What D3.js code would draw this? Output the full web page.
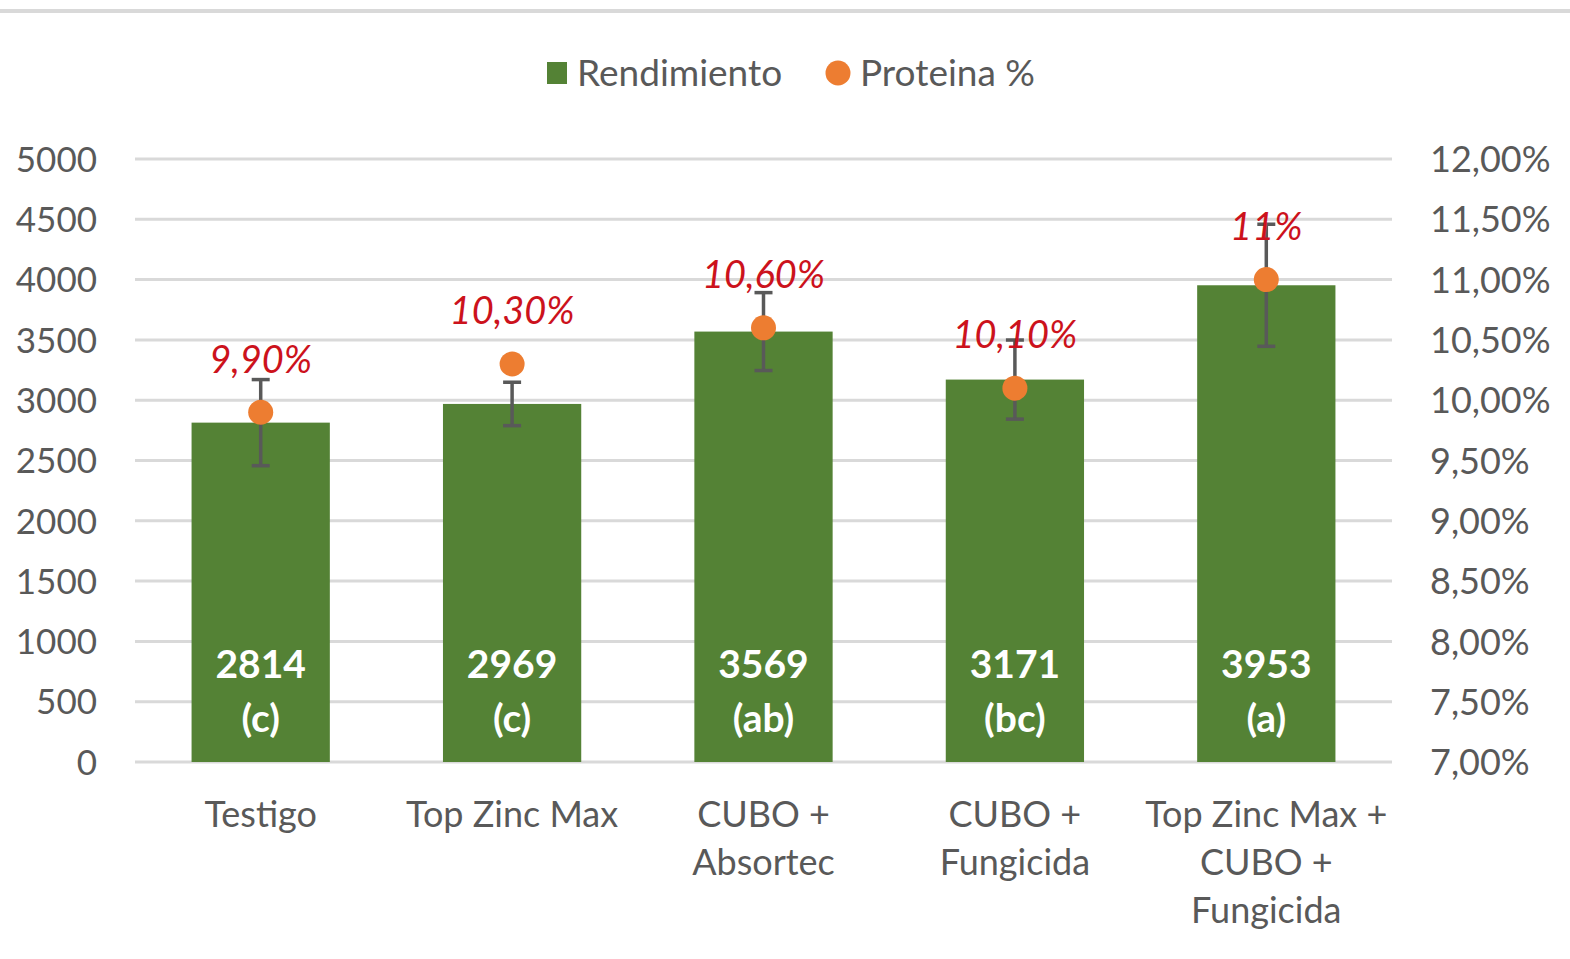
<!DOCTYPE html>
<html>
<head>
<meta charset="utf-8">
<script src="https://cdn.jsdelivr.net/npm/d3@7"></script>
<style>
  body { margin: 0; background: #fff; }
  text { font-family: Lato, "Open Sans", sans-serif; }
</style>
</head>
<body>
<div id="chart"></div>
<script>
var categories = [
  ["Testigo"],
  ["Top Zinc Max"],
  ["CUBO +", "Absortec"],
  ["CUBO +", "Fungicida"],
  ["Top Zinc Max +", "CUBO +", "Fungicida"]
];
var rendimiento = [2814, 2969, 3569, 3171, 3953];
var errores = [357, 180, 323, 328, 506];
var letras = ["(c)", "(c)", "(ab)", "(bc)", "(a)"];
var proteina = [9.9, 10.3, 10.6, 10.1, 11.0];
var proteinaLabels = ["9,90%", "10,30%", "10,60%", "10,10%", "11%"];
var leftTicks = [0, 500, 1000, 1500, 2000, 2500, 3000, 3500, 4000, 4500, 5000];
var rightTicks = [7, 7.5, 8, 8.5, 9, 9.5, 10, 10.5, 11, 11.5, 12];

var W = 1570, H = 959;
var margin = {top: 159, right: 178, bottom: 197, left: 135};

var svg = d3.select("#chart").append("svg")
    .attr("width", W)
    .attr("height", H);

// top border line
svg.append("line")
    .attr("x1", 0).attr("x2", W)
    .attr("y1", 11).attr("y2", 11)
    .attr("stroke", "#d9d9d9")
    .attr("stroke-width", 4);

var x = d3.scaleBand()
    .domain(d3.range(categories.length))
    .range([margin.left, W - margin.right])
    .paddingInner(0.45)
    .paddingOuter(0.225);

var y = d3.scaleLinear().domain([0, 5000]).range([H - margin.bottom, margin.top]);
var y2 = d3.scaleLinear().domain([7, 12]).range([H - margin.bottom, margin.top]);

// Gridlines
svg.append("g")
  .selectAll("line")
  .data(leftTicks)
  .enter().append("line")
    .attr("x1", margin.left)
    .attr("x2", W - margin.right)
    .attr("y1", function(d) { return y(d); })
    .attr("y2", function(d) { return y(d); })
    .attr("stroke", "#d9d9d9")
    .attr("stroke-width", 3);

// Left axis
var yAxis = svg.append("g")
    .attr("transform", "translate(" + (margin.left - 38) + ",0)")
    .call(d3.axisLeft(y).tickValues(leftTicks).tickFormat(d3.format("d")).tickSize(0).tickPadding(0));
yAxis.select(".domain").remove();
yAxis.selectAll("text")
    .attr("fill", "#595959")
    .style("font-size", "35px")
    .attr("dy", "0.35em");

// Right axis
var fmt = function(d) { return d.toFixed(2).replace(".", ",") + "%"; };
var y2Axis = svg.append("g")
    .attr("transform", "translate(" + 1430 + ",0)")
    .call(d3.axisRight(y2).tickValues(rightTicks).tickFormat(fmt).tickSize(0).tickPadding(0));
y2Axis.select(".domain").remove();
y2Axis.selectAll("text")
    .attr("fill", "#595959")
    .style("font-size", "36px")
    .attr("dy", "0.35em");

// Bars
svg.append("g")
  .selectAll("rect")
  .data(rendimiento)
  .enter().append("rect")
    .attr("x", function(d, i) { return x(i); })
    .attr("y", function(d) { return y(d); })
    .attr("width", x.bandwidth())
    .attr("height", function(d) { return y(0) - y(d); })
    .attr("fill", "#548235");

// Bar labels
var cx = function(i) { return x(i) + x.bandwidth() / 2; };
var labels = svg.append("g");
rendimiento.forEach(function(v, i) {
  var t = labels.append("text")
      .attr("x", cx(i))
      .attr("text-anchor", "middle")
      .attr("fill", "#fff")
      .style("font-size", "39px")
      .style("font-weight", "bold");
  t.append("tspan").attr("x", cx(i)).attr("y", 664).attr("dy", "0.35em").text(v);
  t.append("tspan").attr("x", cx(i)).attr("y", 718).attr("dy", "0.35em").text(letras[i]);
});

// Error bars
var eb = svg.append("g")
    .attr("stroke", "#595959")
    .attr("stroke-width", 3.5);
rendimiento.forEach(function(v, i) {
  var lo = y(v - errores[i]), hi = y(v + errores[i]);
  eb.append("line").attr("x1", cx(i)).attr("x2", cx(i)).attr("y1", lo).attr("y2", hi);
  eb.append("line").attr("x1", cx(i) - 9).attr("x2", cx(i) + 9).attr("y1", lo).attr("y2", lo);
  eb.append("line").attr("x1", cx(i) - 9).attr("x2", cx(i) + 9).attr("y1", hi).attr("y2", hi);
});

// Protein points
svg.append("g")
  .selectAll("circle")
  .data(proteina)
  .enter().append("circle")
    .attr("cx", function(d, i) { return cx(i); })
    .attr("cy", function(d) { return y2(d); })
    .attr("r", 12.5)
    .attr("fill", "#ed7d31");

svg.append("g")
  .selectAll("text")
  .data(proteina)
  .enter().append("text")
    .attr("x", function(d, i) { return cx(i); })
    .attr("y", function(d) { return y2(d) - 53; })
    .attr("dy", "0.35em")
    .attr("text-anchor", "middle")
    .attr("fill", "#cc121c")
    .style("font-size", "38px")
    .style("font-style", "italic")
    .text(function(d, i) { return proteinaLabels[i]; });

// Category labels
var cat = svg.append("g");
categories.forEach(function(lines, i) {
  var t = cat.append("text")
      .attr("text-anchor", "middle")
      .attr("fill", "#595959")
      .style("font-size", "36px");
  lines.forEach(function(l, j) {
    t.append("tspan").attr("x", cx(i)).attr("y", 814 + j * 48).attr("dy", "0.35em").text(l);
  });
});

// Legend
var leg = svg.append("g");
leg.append("rect").attr("x", 547).attr("y", 62).attr("width", 20).attr("height", 22).attr("fill", "#548235");
leg.append("text").attr("x", 577).attr("y", 73).attr("dy", "0.35em")
    .attr("fill", "#595959").style("font-size", "37px").text("Rendimiento");
leg.append("circle").attr("cx", 838).attr("cy", 73).attr("r", 12.5).attr("fill", "#ed7d31");
leg.append("text").attr("x", 860).attr("y", 73).attr("dy", "0.35em")
    .attr("fill", "#595959").style("font-size", "37px").text("Proteina %");
</script>
</body>
</html>
